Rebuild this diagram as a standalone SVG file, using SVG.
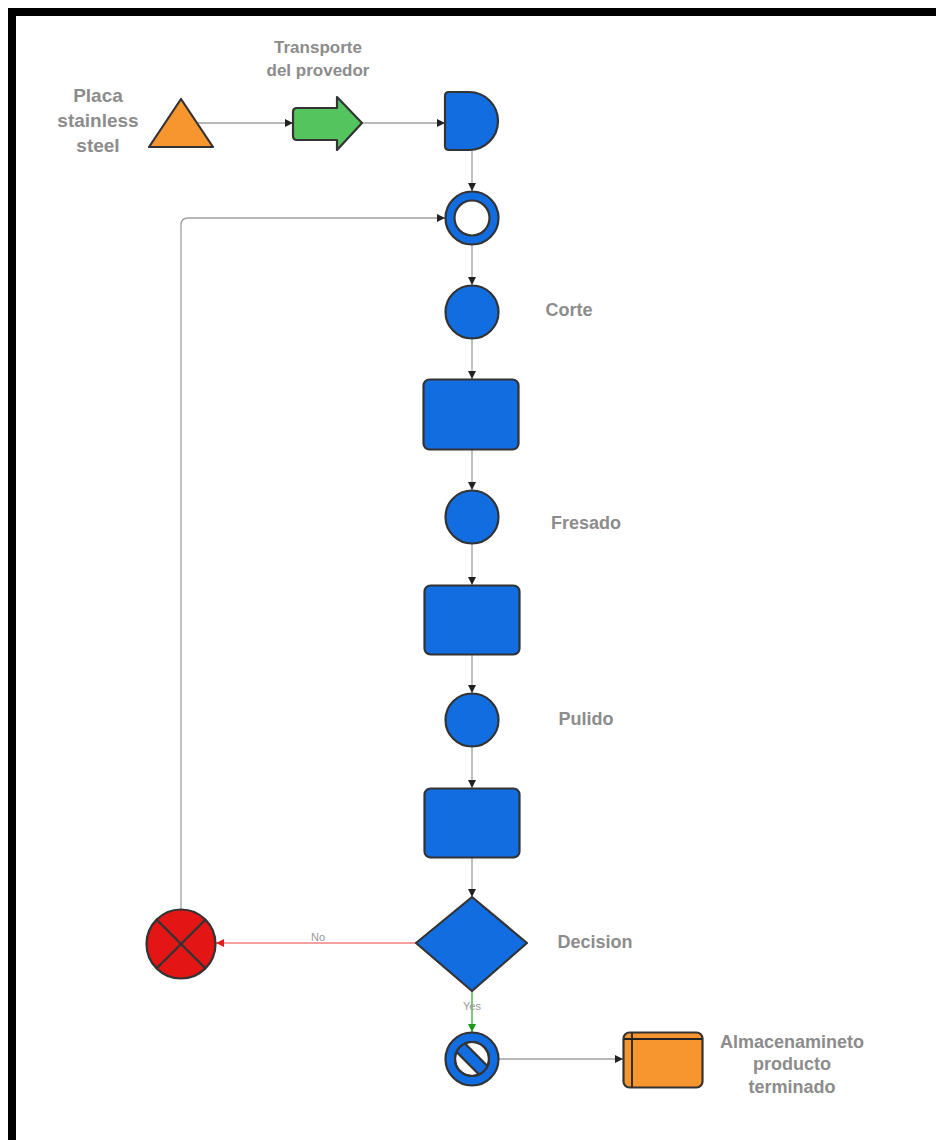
<svg xmlns="http://www.w3.org/2000/svg" width="936" height="1140" viewBox="0 0 936 1140">
<style>
.lbl{font-family:"Liberation Sans",Arial,sans-serif;font-weight:bold;font-size:18px;fill:#8c8c8c;text-anchor:middle}
.sm{font-family:"Liberation Sans",Arial,sans-serif;font-size:11px;fill:#999;text-anchor:middle}
.sh{stroke:#333;stroke-width:2.2;stroke-linejoin:round}
.blue{fill:#116de0}
.con{fill:none;stroke:#a0a0a0;stroke-width:1.3}
</style>
<defs>
<marker id="ah" viewBox="0 0 10 10" refX="10" refY="5" markerWidth="8" markerHeight="8" markerUnits="userSpaceOnUse" orient="auto">
<path d="M0,0 L10,5 L0,10 z" fill="#222"/>
</marker>
<marker id="ahr" viewBox="0 0 10 10" refX="10" refY="5" markerWidth="8" markerHeight="8" markerUnits="userSpaceOnUse" orient="auto">
<path d="M0,0 L10,5 L0,10 z" fill="#e51c1c"/>
</marker>
<marker id="ahg" viewBox="0 0 10 10" refX="10" refY="5" markerWidth="8" markerHeight="8" markerUnits="userSpaceOnUse" orient="auto">
<path d="M0,0 L10,5 L0,10 z" fill="#1a9a1a"/>
</marker>
<clipPath id="blkclip"><circle cx="472" cy="1059" r="17"/></clipPath>
</defs>
<rect x="0" y="0" width="936" height="1140" fill="#fff"/>
<!-- frame -->
<rect x="8" y="8" width="928" height="8" fill="#000"/>
<rect x="8" y="8" width="8" height="1132" fill="#000"/>

<g id="connectors">
<path class="con" d="M198,123 L293,123" marker-end="url(#ah)"/>
<path class="con" d="M362,123 L445,123" marker-end="url(#ah)"/>
<path class="con" d="M472,150 L472,191" marker-end="url(#ah)"/>
<path class="con" d="M472,245 L472,285" marker-end="url(#ah)"/>
<path class="con" d="M472,339 L472,379" marker-end="url(#ah)"/>
<path class="con" d="M472,450 L472,490" marker-end="url(#ah)"/>
<path class="con" d="M472,544 L472,585" marker-end="url(#ah)"/>
<path class="con" d="M472,654 L472,693" marker-end="url(#ah)"/>
<path class="con" d="M472,747 L472,788" marker-end="url(#ah)"/>
<path class="con" d="M472,858 L472,897" marker-end="url(#ah)"/>
<path fill="none" stroke="#f08080" stroke-width="1.3" d="M416,943 L216,943" marker-end="url(#ahr)"/>
<path fill="none" stroke="#3aaa3a" stroke-width="1.3" d="M472,991 L472,1032" marker-end="url(#ahg)"/>
<path class="con" d="M499,1059 L623,1059" marker-end="url(#ah)"/>
<path class="con" d="M181,909 L181,225 Q181,218 188,218 L445,218" marker-end="url(#ah)"/>
<text class="sm" x="318" y="941">No</text>
<text class="sm" x="472" y="1010">Yes</text>
</g>

<g id="placa">
<path class="sh" d="M181,99 L213,147 L149,147 Z" fill="#f7952f"/>
<text class="lbl" style="font-size:19px" x="98" y="102">Placa</text>
<text class="lbl" style="font-size:19px" x="98" y="127">stainless</text>
<text class="lbl" style="font-size:19px" x="98" y="152">steel</text>
</g>

<g id="transporte">
<path class="sh" d="M297,108 L337,108 L337,97 L362,123 L337,150 L337,140 L297,140 Q293,140 293,136 L293,112 Q293,108 297,108 Z" fill="#54c45e"/>
<text class="lbl" style="font-size:17px" x="318" y="53">Transporte</text>
<text class="lbl" style="font-size:17px" x="318" y="76">del provedor</text>
</g>

<g id="demora">
<path class="sh blue" d="M449,92 L469,92 A29,29 0 0 1 469,150 L449,150 Q445,150 445,146 L445,96 Q445,92 449,92 Z"/>
</g>

<g id="inicio">
<circle class="sh blue" cx="472" cy="218" r="26.5"/>
<circle class="sh" cx="472" cy="218" r="17.5" fill="#fff"/>
</g>

<g id="corte">
<circle class="sh blue" cx="472" cy="312" r="26.5"/>
<text class="lbl" x="569" y="316">Corte</text>
</g>

<g id="insp1">
<rect class="sh blue" x="423.5" y="379.5" width="95" height="70" rx="6"/>
</g>

<g id="fresado">
<circle class="sh blue" cx="472" cy="517" r="26.5"/>
<text class="lbl" x="586" y="529">Fresado</text>
</g>

<g id="insp2">
<rect class="sh blue" x="424.5" y="585.5" width="95" height="69" rx="6"/>
</g>

<g id="pulido">
<circle class="sh blue" cx="472" cy="720" r="26.5"/>
<text class="lbl" x="586" y="725">Pulido</text>
</g>

<g id="insp3">
<rect class="sh blue" x="424.5" y="788.5" width="95" height="69" rx="6"/>
</g>

<g id="decision">
<path class="sh blue" d="M472,897 L527,943 L472,991 L416,943 Z" stroke-linejoin="round"/>
<text class="lbl" x="595" y="948">Decision</text>
</g>

<g id="rechazo">
<circle class="sh" cx="181" cy="944" r="34.5" fill="#e31515"/>
<path d="M156.6,919.6 L205.4,968.4 M205.4,919.6 L156.6,968.4" stroke="#333" stroke-width="2.2"/>
</g>

<g id="fin">
<circle class="sh blue" cx="472" cy="1059" r="26.5"/>
<circle class="sh" cx="472" cy="1059" r="17" fill="#fff"/>
<g clip-path="url(#blkclip)">
<rect class="sh blue" x="452" y="1053" width="40" height="12" transform="rotate(45 472 1059)"/>
</g>
<circle cx="472" cy="1059" r="17" fill="none" stroke="#333" stroke-width="2.2"/>
</g>

<g id="almacen">
<rect class="sh" x="623.5" y="1032.5" width="79" height="55" rx="6" fill="#f7952f"/>
<path d="M632,1033 L632,1087 M624,1039 L702,1039" stroke="#222" stroke-width="1.8"/>
<text class="lbl" x="792" y="1048">Almacenamineto</text>
<text class="lbl" x="792" y="1070">producto</text>
<text class="lbl" x="792" y="1093">terminado</text>
</g>
</svg>
